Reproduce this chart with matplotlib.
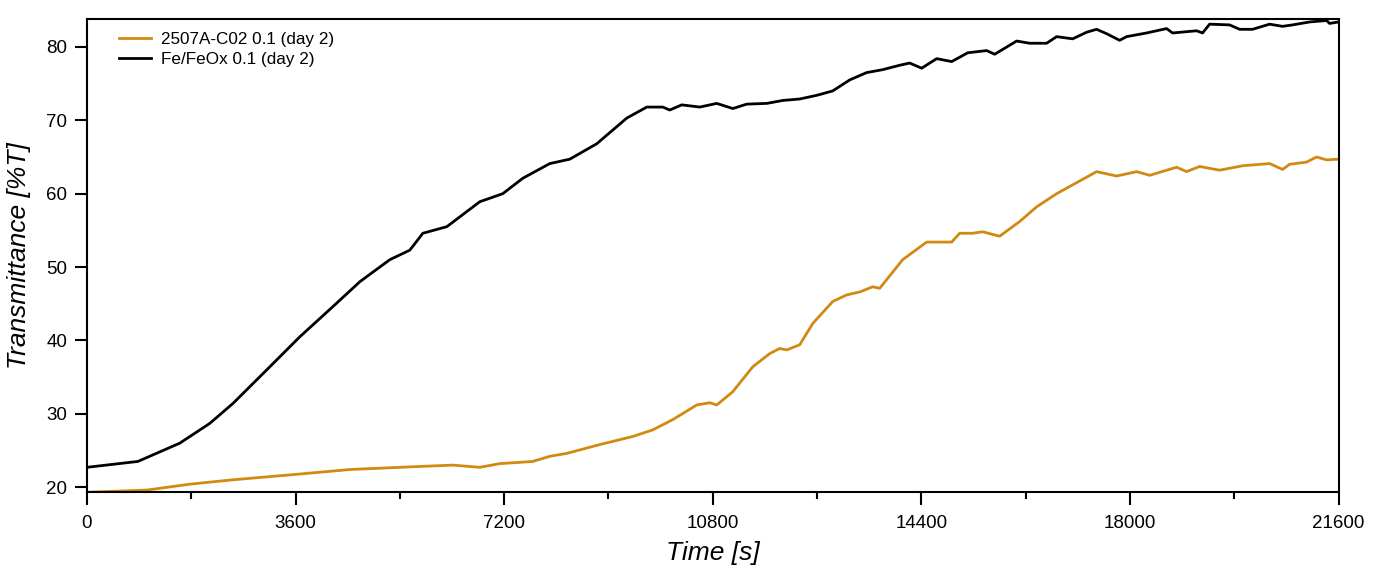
import matplotlib.pyplot as plt
import matplotlib.ticker as ticker

plt.rcParams['font.family'] = ['Liberation Sans', 'DejaVu Sans']

# Fe/FeOx 0.1 (day 2)
t_black = [0, 880, 1604, 2122, 2519, 3105, 3675, 4244, 4710, 5227, 5572, 5797,
           6211, 6780, 7177, 7522, 7988, 8333, 8798, 9316, 9661, 9937, 10058,
           10265, 10575, 10869, 11145, 11386, 11731, 12007, 12300, 12594, 12870,
           13163, 13456, 13733, 14026, 14198, 14405, 14664, 14923, 15200, 15527,
           15665, 16044, 16269, 16562, 16734, 17010, 17252, 17424, 17597, 17821,
           17942, 18287, 18632, 18735, 19150, 19253, 19374, 19719, 19892, 20116,
           20410, 20633, 20806, 21100, 21393, 21444, 21600]
v_black = [22.7, 23.5, 26.0, 28.7, 31.4, 36.0, 40.5, 44.6, 48.0, 51.0, 52.3, 54.6,
           55.5, 58.9, 60.0, 62.1, 64.1, 64.7, 66.8, 70.3, 71.8, 71.8, 71.4,
           72.1, 71.8, 72.3, 71.6, 72.2, 72.3, 72.7, 72.9, 73.4, 74.0,
           75.5, 76.5, 76.9, 77.5, 77.8, 77.1, 78.4, 78.0, 79.2, 79.5,
           79.0, 80.8, 80.5, 80.5, 81.4, 81.1, 82.0, 82.4, 81.8, 80.9,
           81.4, 81.9, 82.5, 81.9, 82.2, 81.9, 83.1, 83.0, 82.4, 82.4,
           83.1, 82.8, 83.0, 83.4, 83.6, 83.2, 83.4]

# 2507A-C02 0.1 (day 2)
t_orange = [0, 1035, 1777, 2519, 3554, 4537, 5400, 6314, 6780, 7125, 7694, 7988,
            8281, 8850, 9419, 9764, 10110, 10524, 10748, 10869, 11145, 11490,
            11783, 11955, 12076, 12300, 12525, 12870, 13111, 13336, 13560, 13681,
            14077, 14491, 14715, 14923, 15061, 15285, 15458, 15751, 16096, 16389,
            16735, 17080, 17424, 17769, 18115, 18339, 18805, 18977, 19201, 19546,
            19944, 20410, 20633, 20754, 21047, 21220, 21393, 21600]
v_orange = [19.3, 19.6, 20.4, 21.0, 21.7, 22.4, 22.7, 23.0, 22.7, 23.2, 23.5, 24.2,
            24.6, 25.8, 26.9, 27.8, 29.2, 31.2, 31.5, 31.2, 33.0, 36.4,
            38.2, 38.9, 38.7, 39.4, 42.3, 45.3, 46.2, 46.6, 47.3, 47.1,
            51.0, 53.4, 53.4, 53.4, 54.6, 54.6, 54.8, 54.2, 56.2, 58.2,
            60.0, 61.5, 63.0, 62.4, 63.0, 62.5, 63.6, 63.0, 63.7, 63.2,
            63.8, 64.1, 63.3, 64.0, 64.3, 65.0, 64.6, 64.7]

fig = plt.figure(figsize=(13.8, 5.68), dpi=100)
ax = fig.add_axes([0.063, 0.134, 0.907, 0.8325])

ax.plot(t_orange, v_orange, color='#d08a12', lw=2, label='2507A-C02 0.1 (day 2)')
ax.plot(t_black, v_black, color='black', lw=2, label='Fe/FeOx 0.1 (day 2)')

ax.set_xlim(0, 21600)
ax.set_ylim(19.35, 83.8)
ax.xaxis.set_major_locator(ticker.MultipleLocator(3600))
ax.xaxis.set_minor_locator(ticker.MultipleLocator(1800))
ax.yaxis.set_major_locator(ticker.MultipleLocator(10))
ax.tick_params(axis='both', which='major', direction='out', length=9, width=1.5,
               labelsize=13.5, pad=5)
ax.tick_params(axis='x', which='minor', direction='out', length=4.8, width=1.5)
ax.tick_params(axis='x', which='major', pad=8)
for s in ax.spines.values():
    s.set_linewidth(1.5)

ax.set_xlabel('Time [s]', fontsize=19, style='italic', labelpad=6)
ax.set_ylabel('Transmittance [%T]', fontsize=19, style='italic', labelpad=11)

ax.legend(loc='upper left', frameon=False, fontsize=12.3, handlelength=1.9,
          handletextpad=0.6, labelspacing=0.3, borderaxespad=0.35,
          bbox_to_anchor=(0.015, 1.0))

fig.savefig('out.png', dpi=100)
